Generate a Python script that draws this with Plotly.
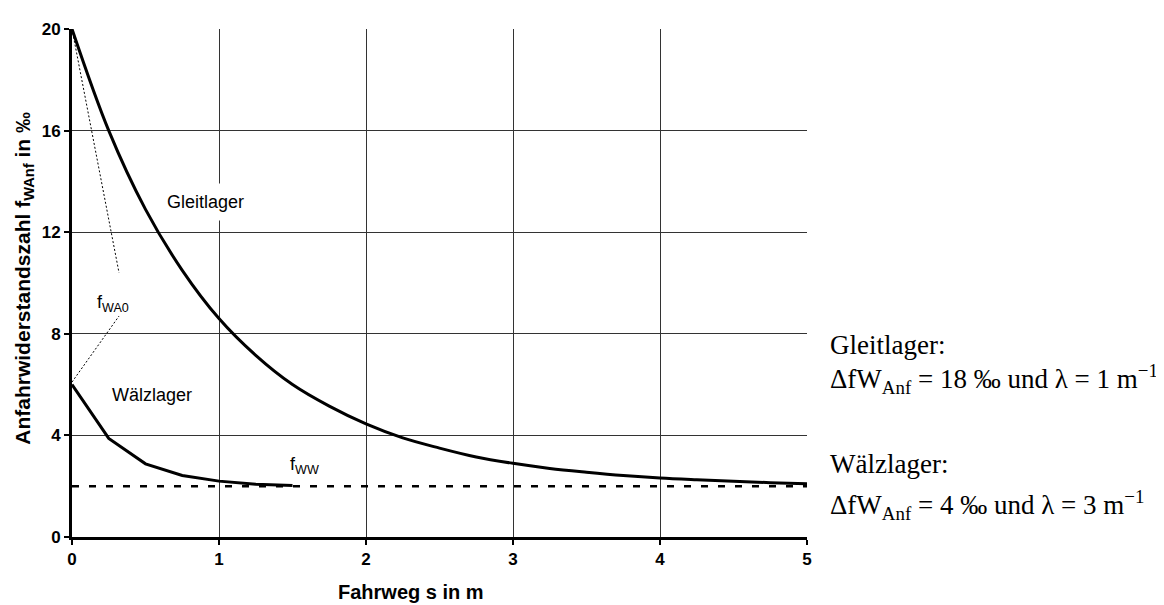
import plotly.graph_objects as go

# Fahrweg s in m
s_gleit = [0, 0.25, 0.5, 0.75, 1.0, 1.25, 1.5, 1.75, 2.0, 2.25, 2.5, 2.75, 3.0,
           3.25, 3.5, 3.75, 4.0, 4.25, 4.5, 4.75, 5.0]
f_gleit = [20.0, 16.0, 12.9, 10.5, 8.6, 7.15, 6.0, 5.15, 4.45, 3.9, 3.5, 3.15, 2.9,
           2.7, 2.55, 2.42, 2.32, 2.25, 2.19, 2.14, 2.1]
s_waelz = [0, 0.25, 0.5, 0.75, 1.0, 1.25, 1.5]
f_waelz = [6.0, 3.88, 2.88, 2.42, 2.2, 2.08, 2.03]
s_ww = [0, 5]
f_ww = [2.0, 2.0]
# pointer lines to label f_WA0
ptr1_s = [0.0, 0.32]
ptr1_f = [20.0, 10.4]
ptr2_s = [0.0, 0.32]
ptr2_f = [6.1, 8.7]

x_ticks = [0, 1, 2, 3, 4, 5]
y_ticks = [0, 4, 8, 12, 16, 20]

fig = go.Figure()
fig.add_trace(go.Scatter(x=s_ww, y=f_ww, mode="lines",
                         line=dict(color="black", width=2.5, dash="7px,10px")))
fig.add_trace(go.Scatter(x=s_gleit, y=f_gleit, mode="lines",
                         line=dict(color="black", width=3, shape="spline")))
fig.add_trace(go.Scatter(x=s_waelz, y=f_waelz, mode="lines",
                         line=dict(color="black", width=3)))
fig.add_trace(go.Scatter(x=ptr1_s, y=ptr1_f, mode="lines",
                         line=dict(color="black", width=1, dash="2px,2px")))
fig.add_trace(go.Scatter(x=ptr2_s, y=ptr2_f, mode="lines",
                         line=dict(color="black", width=1, dash="2px,2px")))

sans = "Liberation Sans, Arial"
lab = dict(family=sans, size=18, color="black")
fig.add_annotation(x=0.91, y=13.2, text="Gleitlager", showarrow=False, font=lab,
                   bgcolor="white", borderpad=8)
fig.add_annotation(x=0.544, y=5.6, text="Wälzlager", showarrow=False, font=lab,
                   bgcolor="white", borderpad=10)
fig.add_annotation(x=0.156, y=9.2, xanchor="left", text="f<sub>WA0</sub>",
                   showarrow=False, font=lab)
fig.add_annotation(x=1.47, y=2.8, xanchor="left", text="f<sub>WW</sub>",
                   showarrow=False, font=lab)

rt = dict(family="Liberation Serif, Times New Roman", size=27, color="black")
fig.add_annotation(xref="paper", yref="paper", x=1.029, y=0.378, xanchor="left",
                   text="Gleitlager:", showarrow=False, font=rt)
fig.add_annotation(xref="paper", yref="paper", x=1.029, y=0.27, xanchor="left",
                   text="ΔfW<sub>Anf</sub> = 18 ‰ und λ = 1 m<sup>−1</sup>",
                   showarrow=False, font=rt)
fig.add_annotation(xref="paper", yref="paper", x=1.029, y=0.11, xanchor="left",
                   text="Wälzlager:", showarrow=False, font=rt)
fig.add_annotation(xref="paper", yref="paper", x=1.029, y=0.022, xanchor="left",
                   text="ΔfW<sub>Anf</sub> = 4 ‰ und λ = 3 m<sup>−1</sup>",
                   showarrow=False, font=rt)

# x-axis title (placed slightly left of centre as in the original)
fig.add_annotation(xref="paper", yref="paper", x=0.461, y=-0.108, yanchor="middle",
                   text="<b>Fahrweg s in m</b>", showarrow=False,
                   font=dict(family=sans, size=20, color="black"))
# y-axis title
fig.add_annotation(xref="paper", yref="paper", x=-0.086, y=0.51, textangle=-90,
                   text="<b>Anfahrwiderstandszahl f<sub>WAnf</sub> in ‰</b>",
                   showarrow=False, font=dict(family=sans, size=21, color="black"))

fig.update_layout(
    width=1164, height=605,
    margin=dict(l=64, r=365, t=14, b=76),
    paper_bgcolor="white", plot_bgcolor="white",
    showlegend=False,
)
fig.update_xaxes(range=[0, 5], tickvals=x_ticks,
                 ticktext=[f"<b>{v}</b>" for v in x_ticks],
                 tickfont=dict(family=sans, size=17, color="black"),
                 showgrid=True, gridcolor="#333333", gridwidth=1, zeroline=False,
                 showline=True, linecolor="black", linewidth=3,
                 ticks="outside", ticklen=5, tickwidth=2, tickcolor="black")
fig.update_yaxes(range=[0, 20], tickvals=y_ticks,
                 ticktext=[f"<b>{v}</b>" for v in y_ticks],
                 tickfont=dict(family=sans, size=17, color="black"),
                 showgrid=True, gridcolor="#333333", gridwidth=1, zeroline=False,
                 showline=True, linecolor="black", linewidth=3,
                 ticks="outside", ticklen=5, tickwidth=2, tickcolor="black")

fig.write_html("out.html")
